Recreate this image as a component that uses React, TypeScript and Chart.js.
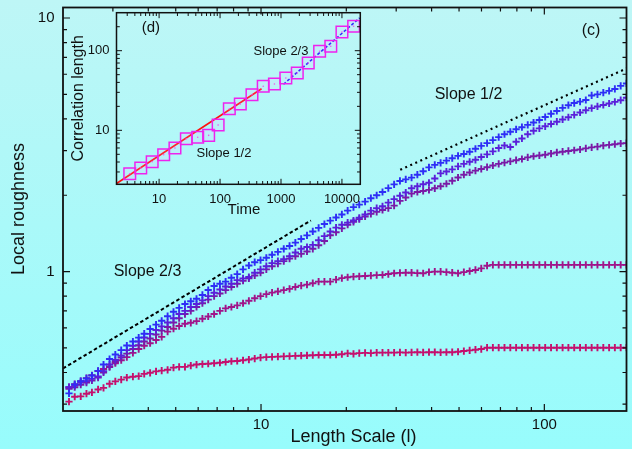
import { useEffect, useRef } from "react";
import { Chart, registerables } from "chart.js";

Chart.register(...registerables);

const FONT = "'Liberation Sans', Arial, Helvetica, sans-serif";
const INK = "#111111";

// ---------- panel (c): local roughness vs length scale ----------
const lengthScale = [
  2.10, 2.20, 2.31, 2.42, 2.53, 2.66, 2.78, 2.92, 3.06, 3.21,
  3.36, 3.53, 3.70, 3.87, 4.06, 4.26, 4.46, 4.68, 4.91, 5.14,
  5.39, 5.65, 5.92, 6.21, 6.51, 6.83, 7.16, 7.50, 7.86, 8.24,
  8.64, 9.06, 9.50, 9.96, 10.44, 10.94, 11.47, 12.03, 12.61, 13.22,
  13.86, 14.53, 15.23, 15.97, 16.74, 17.55, 18.40, 19.29, 20.22, 21.20,
  22.22, 23.30, 24.42, 25.60, 26.84, 28.14, 29.50, 30.93, 32.42, 33.99,
  35.63, 37.35, 39.16, 41.05, 43.04, 45.12, 47.30, 49.59, 51.99, 54.50,
  57.13, 59.89, 62.79, 65.82, 69.01, 72.34, 75.84, 79.51, 83.35, 87.38,
  91.61, 96.04, 100.7, 105.6, 110.7, 116.0, 121.6, 127.5, 133.7, 140.1,
  146.9, 154.0, 161.5, 169.3, 177.4, 186.0, 195.0,
];

const roughness1 = [
  0.331, 0.359, 0.370, 0.379, 0.389, 0.406, 0.430, 0.452, 0.471, 0.490,
  0.511, 0.530, 0.549, 0.569, 0.594, 0.618, 0.640, 0.667, 0.694, 0.719,
  0.745, 0.764, 0.781, 0.809, 0.846, 0.877, 0.895, 0.913, 0.945, 0.977,
  1.02, 1.057, 1.089, 1.11, 1.134, 1.165, 1.196, 1.23, 1.262, 1.301,
  1.345, 1.389, 1.44, 1.487, 1.54, 1.588, 1.635, 1.68, 1.74, 1.795,
  1.836, 1.888, 1.947, 2.0, 2.06, 2.134, 2.207, 2.277, 2.31, 2.347,
  2.41, 2.487, 2.577, 2.635, 2.683, 2.74, 2.8, 2.86, 2.91, 2.97,
  3.05, 3.13, 3.21, 3.3, 3.39, 3.48, 3.56, 3.64, 3.71, 3.79,
  3.87, 3.96, 4.07, 4.19, 4.3, 4.42, 4.53, 4.62, 4.68, 4.75,
  4.95, 5.0, 5.08, 5.16, 5.25, 5.4, 5.52,
];

const roughness2 = [
  0.350, 0.355, 0.365, 0.370, 0.378, 0.386, 0.405, 0.430, 0.448, 0.466,
  0.490, 0.510, 0.530, 0.550, 0.568, 0.588, 0.608, 0.630, 0.655, 0.680,
  0.700, 0.725, 0.745, 0.770, 0.800, 0.825, 0.850, 0.873, 0.895, 0.925,
  0.940, 0.952, 0.990, 1.02, 1.05, 1.08, 1.10, 1.12, 1.15, 1.19,
  1.23, 1.25, 1.274, 1.33, 1.38, 1.44, 1.49, 1.53, 1.56, 1.59,
  1.63, 1.68, 1.74, 1.78, 1.81, 1.87, 1.93, 1.99, 2.05, 2.13,
  2.17, 2.21, 2.24, 2.33, 2.44, 2.48, 2.53, 2.60, 2.66, 2.71,
  2.76, 2.83, 2.90, 2.98, 3.07, 3.14, 3.10, 3.25, 3.35, 3.48,
  3.59, 3.67, 3.74, 3.82, 3.90, 3.98, 4.06, 4.15, 4.24, 4.33,
  4.41, 4.48, 4.54, 4.60, 4.67, 4.74, 4.85,
];

const roughness3 = [
  0.345, 0.350, 0.358, 0.365, 0.372, 0.382, 0.400, 0.420, 0.440, 0.458,
  0.475, 0.495, 0.512, 0.530, 0.545, 0.565, 0.585, 0.605, 0.630, 0.655,
  0.680, 0.700, 0.725, 0.750, 0.775, 0.800, 0.820, 0.845, 0.870, 0.895,
  0.920, 0.940, 0.965, 0.990, 1.02, 1.05, 1.075, 1.10, 1.125, 1.15,
  1.175, 1.20, 1.23, 1.27, 1.32, 1.39, 1.43, 1.48, 1.53, 1.57,
  1.61, 1.65, 1.69, 1.72, 1.75, 1.78, 1.82, 1.90, 1.96, 2.03,
  2.06, 2.08, 2.10, 2.13, 2.17, 2.22, 2.28, 2.35, 2.41, 2.46,
  2.50, 2.54, 2.58, 2.62, 2.66, 2.69, 2.72, 2.75, 2.78, 2.82,
  2.85, 2.87, 2.89, 2.92, 2.95, 2.97, 2.99, 3.01, 3.03, 3.06,
  3.09, 3.11, 3.14, 3.16, 3.18, 3.20, 3.21,
];

const roughness4 = [
  0.350, 0.360, 0.370, 0.380, 0.390, 0.405, 0.413, 0.423, 0.435, 0.447,
  0.460, 0.478, 0.495, 0.510, 0.522, 0.537, 0.553, 0.580, 0.595, 0.610,
  0.623, 0.628, 0.638, 0.652, 0.665, 0.680, 0.700, 0.716, 0.725, 0.736,
  0.750, 0.767, 0.785, 0.800, 0.815, 0.826, 0.835, 0.845, 0.855, 0.870,
  0.880, 0.888, 0.900, 0.913, 0.913, 0.913, 0.930, 0.942, 0.950, 0.955,
  0.958, 0.961, 0.964, 0.968, 0.970, 0.978, 0.985, 0.988, 0.990, 0.990,
  0.986, 0.985, 0.995, 1.000, 1.000, 0.995, 0.990, 0.985, 0.995, 1.005,
  1.015, 1.030, 1.055, 1.063, 1.063, 1.063, 1.063, 1.063, 1.063, 1.063,
  1.063, 1.063, 1.063, 1.063, 1.063, 1.063, 1.063, 1.063, 1.063, 1.063,
  1.063, 1.063, 1.063, 1.063, 1.063, 1.063, 1.063,
];

const roughness5 = [
  0.307, 0.321, 0.322, 0.330, 0.334, 0.343, 0.348, 0.361, 0.369, 0.375,
  0.382, 0.385, 0.387, 0.395, 0.399, 0.404, 0.407, 0.410, 0.418, 0.421,
  0.421, 0.426, 0.430, 0.432, 0.433, 0.435, 0.437, 0.440, 0.443, 0.444,
  0.447, 0.450, 0.454, 0.458, 0.460, 0.461, 0.462, 0.463, 0.464, 0.465,
  0.466, 0.467, 0.468, 0.469, 0.469, 0.469, 0.470, 0.472, 0.476, 0.474,
  0.477, 0.478, 0.477, 0.479, 0.479, 0.479, 0.479, 0.480, 0.479, 0.480,
  0.481, 0.480, 0.481, 0.481, 0.480, 0.481, 0.481, 0.483, 0.486, 0.489,
  0.492, 0.495, 0.501, 0.501, 0.501, 0.501, 0.501, 0.501, 0.501, 0.501,
  0.501, 0.501, 0.501, 0.501, 0.501, 0.501, 0.501, 0.501, 0.501, 0.501,
  0.501, 0.501, 0.501, 0.501, 0.501, 0.501, 0.501,
];

const roughnessSeries = [roughness1, roughness2, roughness3, roughness4, roughness5];
const seriesColors = ["#2e2ef6", "#5a20da", "#7a1aa6", "#a0148a", "#c4106e"];

const mainXLabels = [10, 100];
const mainYLabels = [1, 10];
const mainXMinor = [3, 4, 5, 6, 7, 8, 9, 20, 30, 40, 50, 60, 70, 80, 90];
const mainYMinor = [0.3, 0.4, 0.5, 0.6, 0.7, 0.8, 0.9, 2, 3, 4, 5, 6, 7, 8, 9];

// power-law guides: start point, end abscissa, exponent
const guideTwoThirds = { x0: 2, y0: 0.415, x1: 15, slope: 2 / 3 };
const guideOneHalf = { x0: 31, y0: 2.52, x1: 195, slope: 1 / 2 };

// ---------- panel (d): correlation length vs time ----------
const timeValues = [
  3.3, 5.0, 7.7, 11.9, 18.2, 28, 43, 65, 93, 142, 215,
  334, 511, 780, 1200, 1850, 2800, 4300, 6560, 10000, 15550,
];
const correlationLength = [
  2.85, 3.36, 4.03, 4.94, 5.99, 7.84, 8.17, 8.65, 11.65, 18.7, 21.4,
  28.0, 35.7, 38.2, 45.4, 52.5, 70.0, 98.2, 113.5, 171.8, 202.6,
];
const insetXLabels = [10, 100, 1000, 10000];
const insetYLabels = [10, 100];
const insetXMinor = [
  3, 4, 5, 6, 7, 8, 9, 20, 30, 40, 50, 60, 70, 80, 90,
  200, 300, 400, 500, 600, 700, 800, 900,
  2000, 3000, 4000, 5000, 6000, 7000, 8000, 9000,
];
const insetYMinor = [3, 4, 5, 6, 7, 8, 9, 20, 30, 40, 50, 60, 70, 80, 90, 200];
const fitEarly = { x0: 2, y0: 2.15, x1: 480, slope: 1 / 2 };
const fitLate = { x0: 1100, y0: 37.9, x1: 19500, slope: 2 / 3 };

type Guide = { x0: number; y0: number; x1: number; slope: number };

function guidePoints(g: Guide) {
  return [
    { x: g.x0, y: g.y0 },
    { x: g.x1, y: g.y0 * Math.pow(g.x1 / g.x0, g.slope) },
  ];
}

function guideDataset(g: Guide, color: string, dash: number[], width: number) {
  return {
    data: guidePoints(g),
    showLine: true,
    borderColor: color,
    borderWidth: width,
    borderDash: dash,
    borderCapStyle: "butt",
    pointRadius: 0,
    pointHoverRadius: 0,
    fill: false,
  };
}

type Label = { text: string; x: number; y: number; size: number; rotate?: boolean };
type FrameCfg = {
  xMajor: number[];
  xMinor: number[];
  yMajor: number[];
  yMinor: number[];
  majorLen: number;
  minorLen: number;
  tickWidth: number;
  borderWidth: number;
  labels: Label[];
};

// box, inward ticks on all four sides and free text
function framePlugin(id: string, cfg: FrameCfg) {
  return {
    id,
    afterDatasetsDraw(chart: any) {
      const { ctx, chartArea: a, scales } = chart;
      const xs = scales.x;
      const ys = scales.y;
      ctx.save();
      ctx.strokeStyle = INK;
      ctx.lineWidth = cfg.tickWidth;
      ctx.beginPath();
      const tickX = (v: number, len: number) => {
        const p = xs.getPixelForValue(v);
        if (p < a.left + 1 || p > a.right - 1) return;
        ctx.moveTo(p, a.bottom);
        ctx.lineTo(p, a.bottom - len);
        ctx.moveTo(p, a.top);
        ctx.lineTo(p, a.top + len);
      };
      const tickY = (v: number, len: number) => {
        const p = ys.getPixelForValue(v);
        if (p < a.top + 1 || p > a.bottom - 1) return;
        ctx.moveTo(a.left, p);
        ctx.lineTo(a.left + len, p);
        ctx.moveTo(a.right, p);
        ctx.lineTo(a.right - len, p);
      };
      cfg.xMajor.forEach((v) => tickX(v, cfg.majorLen));
      cfg.xMinor.forEach((v) => tickX(v, cfg.minorLen));
      cfg.yMajor.forEach((v) => tickY(v, cfg.majorLen));
      cfg.yMinor.forEach((v) => tickY(v, cfg.minorLen));
      ctx.stroke();
      ctx.lineWidth = cfg.borderWidth;
      ctx.strokeRect(a.left, a.top, a.right - a.left, a.bottom - a.top);

      ctx.fillStyle = INK;
      ctx.textAlign = "center";
      ctx.textBaseline = "middle";
      cfg.labels.forEach((l) => {
        ctx.font = `${l.size}px ${FONT}`;
        if (l.rotate) {
          ctx.save();
          ctx.translate(l.x, l.y);
          ctx.rotate(-Math.PI / 2);
          ctx.fillText(l.text, 0, 0);
          ctx.restore();
        } else {
          ctx.fillText(l.text, l.x, l.y);
        }
      });
      ctx.restore();
    },
  };
}

function logAxis(
  min: number,
  max: number,
  labels: number[],
  size: number,
  padding: number,
  fit: (s: any) => void
) {
  return {
    type: "logarithmic",
    min,
    max,
    grid: { display: false, drawTicks: false, tickLength: 0 },
    border: { display: false },
    afterBuildTicks: (s: any) => {
      s.ticks = labels.map((value) => ({ value }));
    },
    afterFit: (s: any) => {
      fit(s);
      s.paddingTop = 0;
      s.paddingBottom = 0;
      s.paddingLeft = 0;
      s.paddingRight = 0;
    },
    ticks: {
      autoSkip: false,
      maxRotation: 0,
      minRotation: 0,
      padding,
      color: INK,
      font: { family: FONT, size },
      callback: (v: any) => String(v),
    },
  };
}

function mainConfig(): any {
  return {
    type: "scatter",
    data: {
      datasets: [
        ...roughnessSeries.map((vals, i) => ({
          data: lengthScale.map((x, j) => ({ x, y: vals[j] })),
          showLine: false,
          pointStyle: "cross",
          pointRadius: 3.6,
          pointHoverRadius: 3.6,
          pointBorderWidth: 1.9,
          pointBorderColor: seriesColors[i],
          pointBackgroundColor: seriesColors[i],
          borderColor: seriesColors[i],
        })),
        guideDataset(guideTwoThirds, "#000000", [3.5, 2.5], 2),
        guideDataset(guideOneHalf, "#000000", [2, 3.5], 2.2),
      ],
    },
    options: {
      animation: false,
      responsive: false,
      maintainAspectRatio: false,
      devicePixelRatio: 1,
      events: [],
      layout: { padding: { left: 0, top: 7.5, right: 1, bottom: 0 } },
      plugins: { legend: { display: false }, tooltip: { enabled: false } },
      scales: {
        x: { ...logAxis(2, 195, mainXLabels, 15, 5, (s) => (s.height = 38)), position: "bottom" },
        y: { ...logAxis(0.282, 11, mainYLabels, 15, 8.5, (s) => (s.width = 63)), position: "left" },
      },
    },
    plugins: [
      framePlugin("mainFrame", {
        xMajor: mainXLabels,
        xMinor: mainXMinor,
        yMajor: mainYLabels,
        yMinor: mainYMinor,
        majorLen: 7,
        minorLen: 4,
        tickWidth: 1.2,
        borderWidth: 1.8,
        labels: [
          { text: "Local roughness", x: 19, y: 209, size: 18, rotate: true },
          { text: "Length Scale (l)", x: 353.5, y: 437.5, size: 18 },
          { text: "Slope 2/3", x: 147.5, y: 271.7, size: 16 },
          { text: "Slope 1/2", x: 468.5, y: 95, size: 16 },
          { text: "(c)", x: 591, y: 31, size: 16 },
        ],
      }),
    ],
  };
}

function insetConfig(): any {
  return {
    type: "scatter",
    data: {
      datasets: [
        {
          data: timeValues.map((x, j) => ({ x, y: correlationLength[j] })),
          showLine: false,
          pointStyle: "rect",
          pointRadius: 8.2,
          pointHoverRadius: 8.2,
          pointBorderWidth: 1.5,
          pointBorderColor: "#ee22ee",
          pointBackgroundColor: "rgba(255, 170, 255, 0.12)",
        },
        {
          data: timeValues.map((x, j) => ({ x, y: correlationLength[j] })),
          showLine: false,
          pointStyle: "circle",
          pointRadius: 0.8,
          pointHoverRadius: 0.8,
          pointBorderWidth: 0,
          pointBackgroundColor: "#ee44ee",
        },
        guideDataset(fitEarly, "#ff1010", [], 1.6),
        guideDataset(fitLate, "#1a1aff", [3, 2], 1.6),
      ],
    },
    options: {
      animation: false,
      responsive: false,
      maintainAspectRatio: false,
      devicePixelRatio: 1,
      events: [],
      layout: { padding: { left: 0, top: 12.7, right: 8.3, bottom: 0 } },
      plugins: { legend: { display: false }, tooltip: { enabled: false } },
      scales: {
        x: { ...logAxis(2, 20000, insetXLabels, 13, 7.2, (s) => (s.height = 40.7)), position: "bottom" },
        y: { ...logAxis(2.1, 300, insetYLabels, 13, 7, (s) => (s.width = 56.5)), position: "left" },
      },
    },
    plugins: [
      framePlugin("insetFrame", {
        xMajor: insetXLabels,
        xMinor: insetXMinor,
        yMajor: insetYLabels,
        yMinor: insetYMinor,
        majorLen: 5.5,
        minorLen: 3.3,
        tickWidth: 1,
        borderWidth: 1.5,
        labels: [
          { text: "Correlation length", x: 18.3, y: 98.3, size: 16, rotate: true },
          { text: "Time", x: 184, y: 210, size: 15 },
          { text: "(d)", x: 90.8, y: 28, size: 15 },
          { text: "Slope 2/3", x: 221, y: 51, size: 13 },
          { text: "Slope 1/2", x: 164, y: 153.8, size: 13 },
        ],
      }),
    ],
  };
}

export default function App() {
  const mainRef = useRef<HTMLCanvasElement>(null);
  const insetRef = useRef<HTMLCanvasElement>(null);

  useEffect(() => {
    const main = new Chart(mainRef.current as HTMLCanvasElement, mainConfig());
    const inset = new Chart(insetRef.current as HTMLCanvasElement, insetConfig());
    return () => {
      main.destroy();
      inset.destroy();
    };
  }, []);

  return (
    <div
      style={{
        position: "fixed",
        left: 0,
        top: 0,
        width: 632,
        height: 449,
        overflow: "hidden",
        background: "linear-gradient(to bottom, #bef6f6 0%, #aaf9f9 50%, #97fcfc 100%)",
      }}
    >
      <canvas
        ref={mainRef}
        width={632}
        height={449}
        style={{ position: "absolute", left: 0, top: 0, width: 632, height: 449 }}
      />
      <canvas
        ref={insetRef}
        width={310}
        height={225}
        style={{ position: "absolute", left: 60, top: 0, width: 310, height: 225 }}
      />
    </div>
  );
}
